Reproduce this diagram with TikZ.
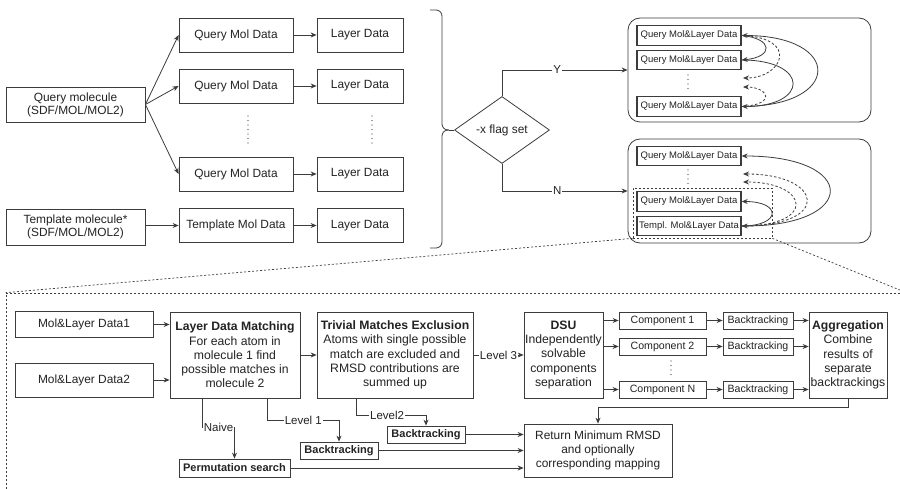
\documentclass[tikz,border=0pt]{standalone}
\usepackage{fontspec}
\setmainfont{Liberation Sans}
\usetikzlibrary{arrows.meta,shapes.geometric}
\definecolor{lc}{RGB}{60,60,60}
\definecolor{tc}{RGB}{35,35,35}
\tikzset{
  line/.style={draw=lc, line width=0.8pt},
  arr/.style={line, -{Stealth[length=6pt,width=5pt]}},
  darr/.style={arr, dash pattern=on 2.5pt off 2pt},
  box/.style={draw=lc, line width=0.8pt, fill=white, text=tc, align=center, inner sep=1pt,
              font=\fontsize{11.9}{13}\selectfont},
  bigbox/.style={box, font=\fontsize{12.2}{14.3}\selectfont},
  mini/.style={box, line width=1.3pt, minimum width=104, minimum height=19.5, font=\fontsize{9.5}{10}\selectfont},
  comp/.style={box, minimum height=17, font=\fontsize{10.6}{12}\selectfont},
  boldbox/.style={box, minimum height=17, font=\fontsize{11}{12}\selectfont\bfseries},
  grp/.style={draw=lc, line width=0.8pt, rounded corners=12},
  dotline/.style={draw=lc, line width=1.4pt, dash pattern=on 0pt off 4.5pt, line cap=round},
  zoomline/.style={draw=lc, line width=0.7pt, dash pattern=on 2pt off 2pt},
  lab/.style={fill=white, text=tc, inner sep=1pt, font=\fontsize{11.5}{12}\selectfont},
}
\begin{document}
\begin{tikzpicture}[x=1pt,y=-1pt]
\useasboundingbox (0,0) rectangle (900,489);
\fill[white] (0,0) rectangle (900,489);

% ---------- top left ----------
\node[box, minimum width=139, minimum height=35] (qmol) at (75.5,104.5) {Query molecule\\(SDF/MOL/MOL2)};
\node[box, minimum width=139, minimum height=36] (tmol) at (75.5,227) {Template molecule*\\(SDF/MOL/MOL2)};

\node[box, minimum width=114, minimum height=34] (qd1) at (236,35) {Query Mol Data};
\node[box, minimum width=114, minimum height=34] (qd2) at (236,86) {Query Mol Data};
\node[box, minimum width=114, minimum height=34] (qd3) at (236,174) {Query Mol Data};
\node[box, minimum width=114, minimum height=34] (td) at (236,225.5) {Template Mol Data};

\node[box, minimum width=86, minimum height=34] (ld1) at (360,35) {Layer Data};
\node[box, minimum width=86, minimum height=34] (ld2) at (360,86) {Layer Data};
\node[box, minimum width=86, minimum height=34] (ld3) at (360,174) {Layer Data};
\node[box, minimum width=86, minimum height=34] (ld4) at (360,225.5) {Layer Data};

\draw[dotline] (248,116) -- (248,146);
\draw[dotline] (372,116) -- (372,146);

\draw[arr] (qmol.east) -- (qd1.west);
\draw[arr] (qmol.east) -- (qd2.west);
\draw[arr] (qmol.east) -- (qd3.west);
\draw[arr] (tmol.east |- td.west) -- (td.west);
\draw[arr] (qd1) -- (ld1);
\draw[arr] (qd2) -- (ld2);
\draw[arr] (qd3) -- (ld3);
\draw[arr] (td) -- (ld4);

% ---------- brace ----------
\coordinate (brtip) at (449,130);
\draw[line, rounded corners=6] (430,10) -| (442,130) -- (brtip);
\draw[line, rounded corners=6] (brtip) -- (442,130) |- (430,248);

% ---------- decision ----------
\node[diamond, draw=lc, line width=0.8pt, aspect=1.42, minimum width=95, minimum height=67, inner sep=0pt,
      text=tc, font=\fontsize{11.9}{13}\selectfont] (dia) at (502,130) {-x flag set};
\draw[line] (brtip) -- (dia.west);

\node[grp, minimum width=243, minimum height=104] (topbox) at (749.5,70) {};
\node[grp, minimum width=243, minimum height=104] (botbox) at (749.5,191) {};

\draw[arr] (dia.north) |- node[lab, pos=0.72]{Y} (topbox.west);
\draw[arr] (dia.south) |- node[lab, pos=0.72]{N} (botbox.west);

% top group
\node[mini] (r1) at (689,35.5) {Query Mol\&Layer Data};
\node[mini] (r2) at (689,60) {Query Mol\&Layer Data};
\node[mini] (r4) at (689,106.5) {Query Mol\&Layer Data};
\draw[dotline] (688,75) -- (688,90);
\coordinate (td1) at (743,78);
\coordinate (td2) at (743,87);
\draw[arr] (r1.east) .. controls +(32,3) and +(32,-3) .. (r2.east);
\draw[arr] (r2.east) .. controls +(68,0) and +(68,0) .. (r4.east);
\draw[arr] (r4.east) .. controls +(101,0) and +(101,0) .. (r1.east);
\draw[darr] (r1.east) .. controls +(58,2) and +(40,0) .. (td1);
\draw[darr] (r4.east) .. controls +(36,-2) and +(25,0) .. (td2);

% bottom group
\node[mini] (b1) at (689,156) {Query Mol\&Layer Data};
\node[mini] (b3) at (689,201.5) {Query Mol\&Layer Data};
\node[mini] (b4) at (689,226) {Templ. Mol\&Layer Data};
\draw[dotline] (688,170) -- (688,186);
\node[draw=lc, line width=0.7pt, dash pattern=on 2pt off 2pt, minimum width=139, minimum height=50, inner sep=0pt] (sel) at (702.5,213) {};
\coordinate (bd1) at (743,174);
\coordinate (bd2) at (743,182);
\draw[{Stealth[length=6pt,width=5pt]}-{Stealth[length=6pt,width=5pt]}, line] (b1.east) .. controls +(117,0) and +(117,0) .. (b4.east);
\draw[arr] (b4.east) .. controls +(40,0) and +(40,0) .. (b3.east);
\draw[darr] (b4.east) .. controls +(92,0) and +(80,0) .. (bd1);
\draw[darr] (b4.east) .. controls +(76,0) and +(66,0) .. (bd2);

% ---------- zoomed detail frame ----------
\node[draw=lc, line width=0.7pt, dash pattern=on 2pt off 2pt, minimum width=900, minimum height=202, inner sep=0pt] (detail) at (456,394) {};
\draw[zoomline] (sel.south west) -- (detail.north west);
\draw[zoomline] (sel.south east) -- (detail.north east);

% ---------- bottom flow ----------
\node[box, minimum width=138, minimum height=26] (mld1) at (84,324.5) {Mol\&Layer Data1};
\node[box, minimum width=138, minimum height=34] (mld2) at (84,380) {Mol\&Layer Data2};

\node[bigbox, minimum width=130, minimum height=86] (ldm) at (235,355)
  {\textbf{Layer Data Matching}\\For each atom in\\molecule 1 find\\possible matches in\\molecule 2};
\node[bigbox, minimum width=156, minimum height=86] (tme) at (395,355)
  {\textbf{Trivial Matches Exclusion}\\Atoms with single possible\\match are excluded and\\RMSD contributions are\\summed up};
\node[bigbox, minimum width=79, minimum height=86] (dsu) at (563.5,355)
  {\textbf{DSU}\\Independently\\solvable\\components\\separation};
\node[bigbox, minimum width=78, minimum height=86] (agg) at (848,355)
  {\textbf{Aggregation}\\Combine\\results of\\separate\\backtrackings};

\node[comp, minimum width=87] (c1) at (662.5,320.5) {Component 1};
\node[comp, minimum width=87] (c2) at (662.5,346.5) {Component 2};
\node[comp, minimum width=87] (cn) at (662.5,389.5) {Component N};
\draw[dotline] (671,361) -- (671,375);

\node[comp, minimum width=70] (k1) at (758,320.5) {Backtracking};
\node[comp, minimum width=70] (k2) at (758,346.5) {Backtracking};
\node[comp, minimum width=70] (kn) at (758,389.5) {Backtracking};

\node[bigbox, minimum width=148, minimum height=53, font=\fontsize{11.9}{14}\selectfont] (ret) at (598,450.5)
  {Return Minimum RMSD\\and optionally\\corresponding mapping};

\node[boldbox, minimum width=78] (btl2) at (426,434.5) {Backtracking};
\node[boldbox, minimum width=78] (btl1) at (339,450.5) {Backtracking};
\node[boldbox, minimum width=111, minimum height=18] (perm) at (234.5,468) {Permutation search};

\draw[arr] (mld1.east) -- (mld1.east -| ldm.west);
\draw[arr] (mld2.east) -- (mld2.east -| ldm.west);
\draw[arr] (ldm) -- (tme);
\draw[arr] (tme) -- node[lab]{Level 3} (dsu);

\draw[arr] (dsu.east |- c1) -- (c1.west);
\draw[arr] (dsu.east |- c2) -- (c2.west);
\draw[arr] (dsu.east |- cn) -- (cn.west);
\draw[arr] (c1) -- (k1);
\draw[arr] (c2) -- (k2);
\draw[arr] (cn) -- (kn);
\draw[arr] (k1.east) -- (k1.east -| agg.west);
\draw[arr] (k2.east) -- (k2.east -| agg.west);
\draw[arr] (kn.east) -- (kn.east -| agg.west);
\draw[arr] (agg.south) -- ++(0,9) -| (ret.north);

\draw[arr] ([xshift=33pt]ldm.south west) |- node[lab, pos=0.75]{Naive} (perm.north |- 0,427) -- (perm.north);
\draw[arr] ([xshift=98pt]ldm.south west) |- node[lab, pos=0.75]{Level 1} (btl1.north |- 0,420) -- (btl1.north);
\draw[arr] ([xshift=40pt]tme.south west) |- node[lab, pos=0.72]{Level2} (btl2.north |- 0,415) -- (btl2.north);

\draw[arr] (btl2.east) -- (btl2.east -| ret.west);
\draw[arr] (btl1.east) -- (btl1.east -| ret.west);
\draw[arr] (perm.east) -- (perm.east -| ret.west);
\end{tikzpicture}
\end{document}
